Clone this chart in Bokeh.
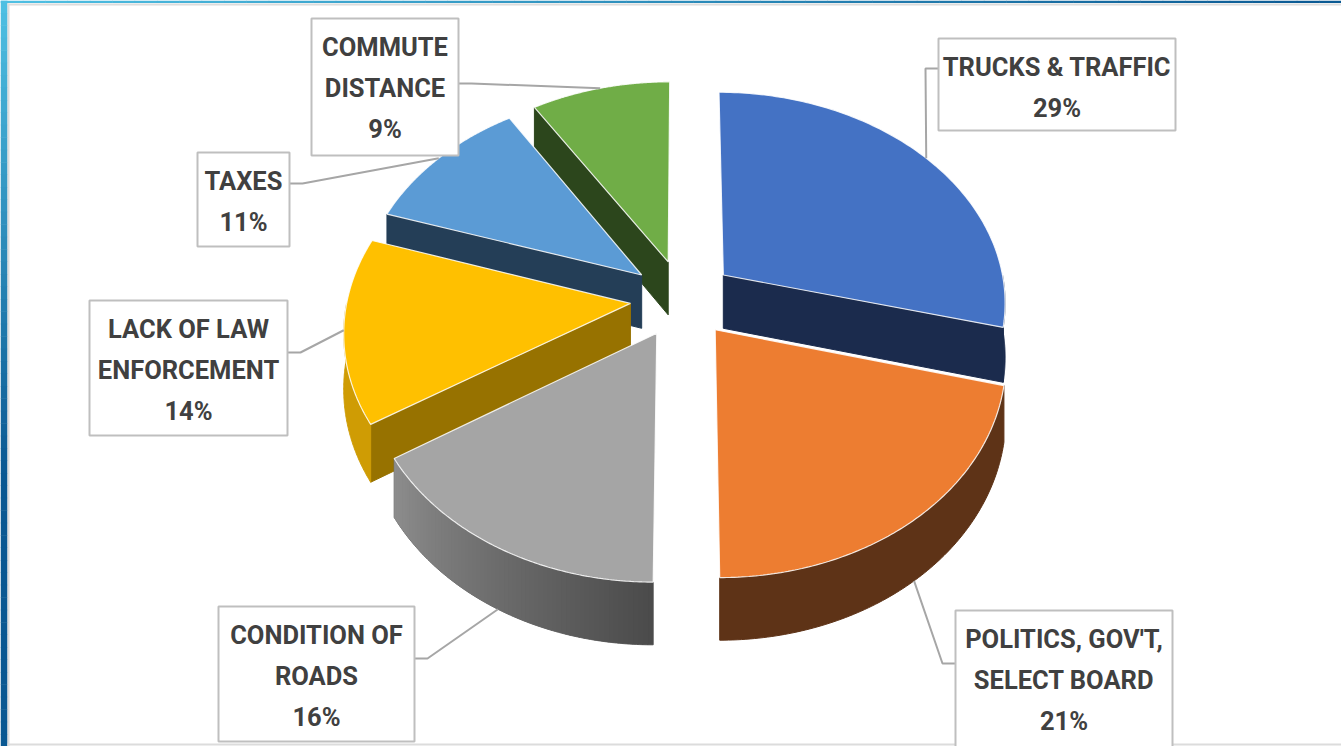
import numpy as np
from bokeh.plotting import figure
from bokeh.models import Range1d, ColumnDataSource
from bokeh.core.properties import value
from bokeh.embed import file_html
from bokeh.resources import INLINE

# ---------------- data ----------------
categories = ["TRUCKS & TRAFFIC", "POLITICS, GOV'T, SELECT BOARD", "CONDITION OF ROADS",
              "LACK OF LAW ENFORCEMENT", "TAXES", "COMMUTE DISTANCE"]
values = [29, 21, 16, 14, 11, 9]
label_lines = [["TRUCKS & TRAFFIC"], ["POLITICS, GOV'T,", "SELECT BOARD"], ["CONDITION OF", "ROADS"],
               ["LACK OF LAW", "ENFORCEMENT"], ["TAXES"], ["COMMUTE", "DISTANCE"]]

# ---------------- styles ----------------
top_colors = ["#4472C4", "#ED7D31", "#A5A5A5", "#FFC000", "#5B9BD5", "#70AD47"]
outer_start = ["#1B2B4D", "#5E3317", "#4A4A4A", "#CF9C04", "#233E58", "#2C461C"]
outer_end = ["#1B2B4D", "#5E3317", "#8E8E8E", "#CF9C04", "#233E58", "#2C461C"]
radial_colors = ["#1B2B4D", "#5E3317", "#6E6E6E", "#977200", "#243E57", "#2C461C"]

# label layout (image pixel coordinates)
box_l = [938, 955, 218, 89, 197, 311]
box_r = [1175, 1172, 414, 287, 289, 458]
box_t = [38, 610, 606, 300, 152, 18]
box_b = [130, 770, 741, 435, 246, 155]
anchor_y = [68, 663, 658, 352, 183, 83]
anchor_side = ["left", "left", "right", "right", "right", "right"]
leader_down = [0.0, 1.0, 1.0, 0.0, 0.0, 0.0]

CX, CY, AX, BY, K, EXPL, DEPTH = 682.0, 298.0, 283.0, 210.0, 0.12, 0.185, 54.0


def proj(u, v, down=0.0):
    w = 1.0 - K * v
    return CX + AX * u / w, CY + BY * v / w + down * DEPTH / w


def mix(c0, c1, f):
    a = np.array([int(c0[i:i + 2], 16) for i in (1, 3, 5)], float)
    b = np.array([int(c1[i:i + 2], 16) for i in (1, 3, 5)], float)
    c = a + (b - a) * f
    return "#%02x%02x%02x" % tuple(int(round(x)) for x in c)


total = float(sum(values))
edges = np.concatenate([[0.0], np.cumsum(values)]) / total * 2 * np.pi

xs, ys, fills, lcols, lws, lalphas = [], [], [], [], [], []


def add(px, py, fill, lc, lw, la):
    xs.append(list(px)); ys.append(list(py)); fills.append(fill)
    lcols.append(lc); lws.append(lw); lalphas.append(la)


order = sorted(range(len(values)), key=lambda i: -np.cos((edges[i] + edges[i + 1]) / 2))
for i in order:
    a0, a1 = edges[i], edges[i + 1]
    m = (a0 + a1) / 2
    ou, ov = EXPL * np.sin(m), -EXPL * np.cos(m)

    def rim(t, down=0.0):
        return proj(ou + np.sin(t), ov - np.cos(t), down)

    ax0, ay0 = proj(ou, ov, 0.0)
    ax1, ay1 = proj(ou, ov, 1.0)
    if np.sin(a1) > 0.05:
        rx0, ry0 = rim(a1, 0.0); rx1, ry1 = rim(a1, 1.0)
        add([ax0, rx0, rx1, ax1], [ay0, ry0, ry1, ay1], radial_colors[i], radial_colors[i], 1, 1.0)
    if np.sin(a0) < -0.05:
        rx0, ry0 = rim(a0, 0.0); rx1, ry1 = rim(a0, 1.0)
        add([ax0, rx0, rx1, ax1], [ay0, ry0, ry1, ay1], radial_colors[i], radial_colors[i], 1, 1.0)
    lo, hi = max(a0, np.pi / 2), min(a1, 3 * np.pi / 2)
    if hi > lo:
        ts = np.linspace(lo, hi, 100)
        tx_, ty_ = rim(ts, 0.0)
        bx_, by_ = rim(ts[::-1], 1.0)
        base = mix(outer_start[i], outer_end[i], 0.5)
        add(list(tx_) + list(bx_), list(ty_) + list(by_), base, base, 1, 1.0)
        if outer_start[i] != outer_end[i]:
            n = max(2, int((hi - lo) / 0.015))
            ts = np.linspace(lo, hi, n + 1)
            for j in range(n):
                t0, t1 = ts[j], ts[j + 1]
                f = ((t0 + t1) / 2 - lo) / (hi - lo)
                c = mix(outer_start[i], outer_end[i], f)
                t1e = min(hi, t1 + 0.004)
                x00, y00 = rim(t0, 0.0); x10, y10 = rim(t1e, 0.0)
                x11, y11 = rim(t1e, 1.0); x01, y01 = rim(t0, 1.0)
                add([x00, x10, x11, x01], [y00, y10, y11, y01], c, None, 0, 0.0)
    ts = np.linspace(a0, a1, 120)
    px, py = rim(ts, 0.0)
    add([ax0] + list(px), [ay0] + list(py), top_colors[i], "#FFFFFF", 1.2, 0.85)

W, H = 1341, 746
p = figure(width=W, height=H, x_range=Range1d(0, W), y_range=Range1d(H, 0),
           output_backend="svg", toolbar_location=None, min_border=0)
p.axis.visible = False
p.grid.visible = False
p.outline_line_color = None
p.background_fill_color = "#FFFFFF"
p.border_fill_color = "#FFFFFF"

# slide frame: blue gradient strips and light grey border
nstep = 60
gx = np.linspace(0, W, nstep + 1)
gy = np.linspace(0, H, nstep + 1)
p.quad(left=gx[:-1], right=gx[1:] + 0.5, top=[0] * nstep, bottom=[2.6] * nstep,
       fill_color=[mix("#4EBFE2", "#0A5892", k / nstep) for k in range(nstep)], line_color=None)
p.quad(left=[0] * nstep, right=[7] * nstep, top=gy[:-1], bottom=gy[1:] + 0.5,
       fill_color=[mix("#4EBFE2", "#0A5892", min(1.0, 1.6 * k / nstep)) for k in range(nstep)],
       line_color=None)
p.multi_line(xs=[[8, 8], [7, W], [7, W]], ys=[[3, H], [4, 4], [744, 744]],
             line_color="#DCDCDC", line_width=2)

p.patches(xs="xs", ys="ys", fill_color="fill", line_color="lc", line_width="lw", line_alpha="la",
          source=ColumnDataSource(dict(xs=xs, ys=ys, fill=fills, lc=lcols, lw=lws, la=lalphas)))

# leader lines
lx, ly = [], []
for i in range(len(values)):
    m = (edges[i] + edges[i + 1]) / 2
    ou, ov = EXPL * np.sin(m), -EXPL * np.cos(m)
    ex, ey = proj(ou + np.sin(m), ov - np.cos(m), leader_down[i])
    if anchor_side[i] == "left":
        bx = box_l[i]; kx = bx - 13
    else:
        bx = box_r[i]; kx = bx + 13
    lx.append([bx, kx, ex]); ly.append([anchor_y[i], anchor_y[i], ey])
p.multi_line(xs=lx, ys=ly, line_color="#A6A6A6", line_width=2)

# label boxes
p.quad(left=box_l, right=box_r, top=box_t, bottom=box_b, fill_color="#FFFFFF",
       line_color="#BFBFBF", line_width=2)

tx, ty, tt = [], [], []
for i in range(len(values)):
    lines = label_lines[i] + ["%d%%" % values[i]]
    cx = (box_l[i] + box_r[i]) / 2
    for j, s in enumerate(lines):
        tx.append(cx); ty.append(box_t[i] + 28 + 41 * j); tt.append(s)
p.text(x=tx, y=ty, text=tt, text_align="center", text_baseline="alphabetic",
       text_font=value("Roboto"), text_font_style="bold",
       text_font_size="25.5px", text_color="#404040")

open("out.html", "w").write(file_html(p, INLINE))
